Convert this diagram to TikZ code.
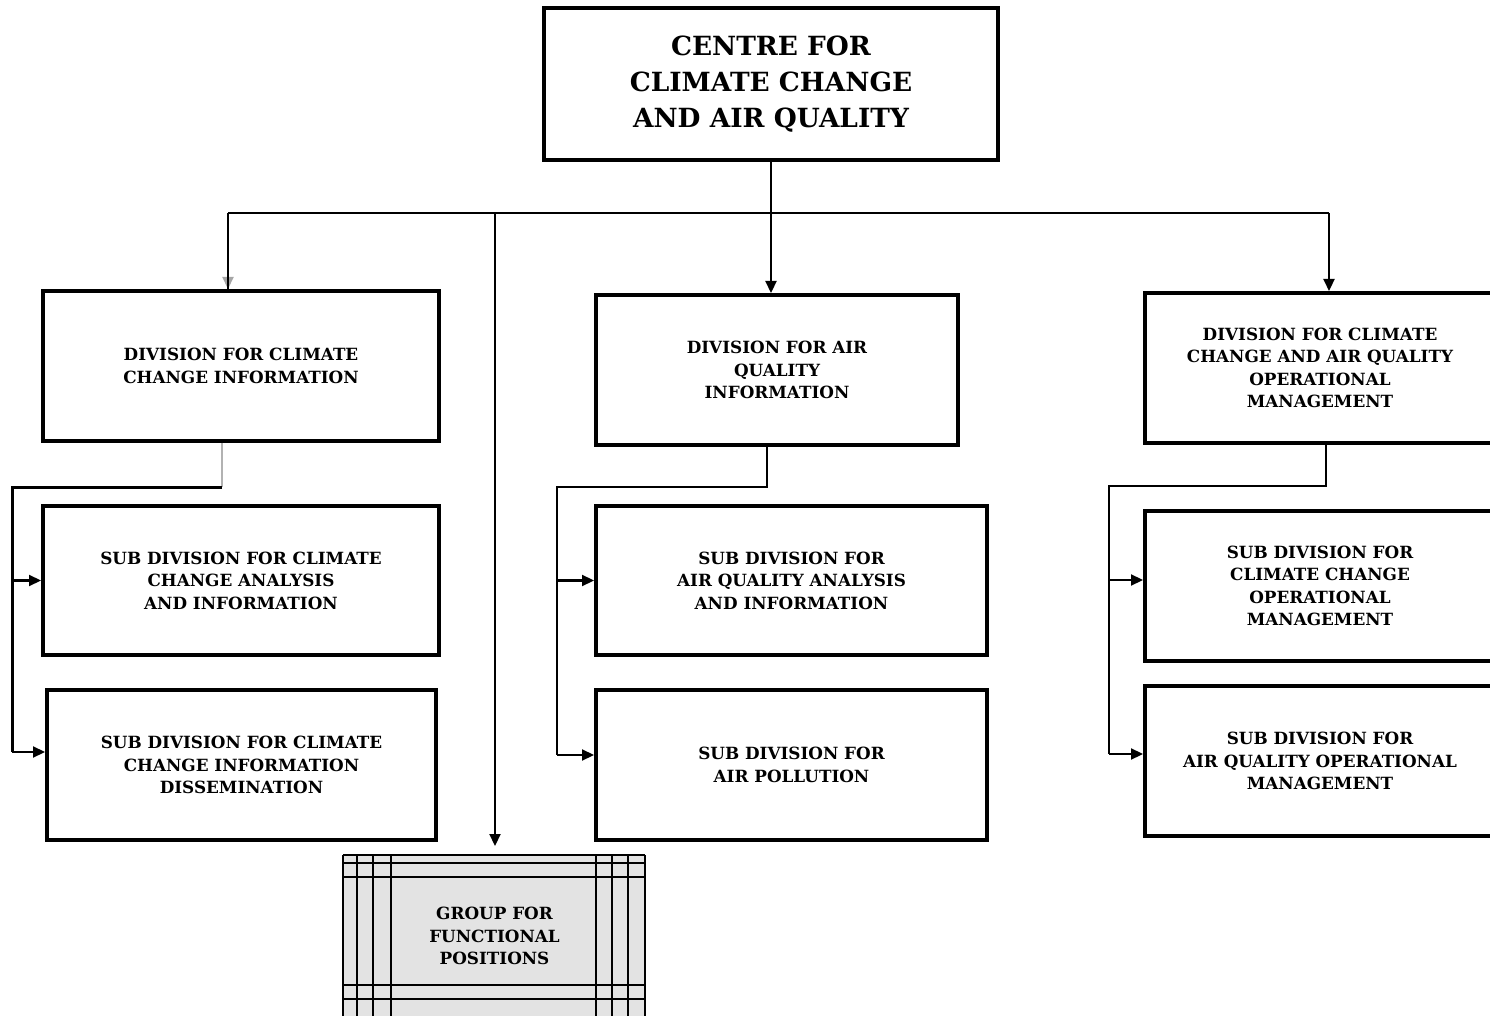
\documentclass[tikz,border=0pt]{standalone}
\usepackage{fontspec}
\setmainfont{DejaVu Serif}
\usepackage{tikz}
\usetikzlibrary{arrows.meta,positioning}
\tikzset{
  orgbox/.style={draw, line width=2pt, fill=white, align=center, inner sep=0pt,
                 font=\fontsize{8.4}{11.25}\selectfont\bfseries},
  topbox/.style={orgbox, font=\fontsize{13.2}{18}\selectfont\bfseries},
  link/.style={line width=1.1pt},
  arr/.style={link, -{Stealth[inset=0pt, length=6pt, width=5.5pt]}},
}

\begin{document}
\begin{tikzpicture}[x=0.5pt, y=-0.5pt]
			\useasboundingbox (0,0) rectangle (1490,1016);
			\clip (0,0) rectangle (1490,1016);
			% top level
			\node (centre) [topbox, minimum width=227pt, minimum height=76pt] at (771,84)
						{CENTRE FOR\\CLIMATE CHANGE\\AND AIR QUALITY};
			% divisions
			\node (divCC) [orgbox, minimum width=198pt, minimum height=75pt] at (241,366)
						{DIVISION FOR CLIMATE\\CHANGE INFORMATION};
			\node (divAQ) [orgbox, minimum width=181pt, minimum height=75pt] at (777,370)
						{DIVISION FOR AIR\\QUALITY\\INFORMATION};
			\node (divOM) [orgbox, minimum width=175pt, minimum height=75pt] at (1320,368)
						{DIVISION FOR CLIMATE\\CHANGE AND AIR QUALITY\\OPERATIONAL\\MANAGEMENT};
			% sub divisions
			\node (subCCA) [orgbox, minimum width=198pt, minimum height=74.5pt] at (241,580.5)
						{SUB DIVISION FOR CLIMATE\\CHANGE ANALYSIS\\AND INFORMATION};
			\node (subCCD) [orgbox, minimum width=194.5pt, minimum height=75pt] at (241.5,765)
						{SUB DIVISION FOR CLIMATE\\CHANGE INFORMATION\\DISSEMINATION};
			\node (subAQA) [orgbox, minimum width=195.5pt, minimum height=74.5pt] at (791.5,580.5)
						{SUB DIVISION FOR\\AIR QUALITY ANALYSIS\\AND INFORMATION};
			\node (subAP) [orgbox, minimum width=195.5pt, minimum height=75pt] at (791.5,765)
						{SUB DIVISION FOR\\AIR POLLUTION};
			\node (subCCO) [orgbox, minimum width=175pt, minimum height=75pt] at (1320,586)
						{SUB DIVISION FOR\\CLIMATE CHANGE\\OPERATIONAL\\MANAGEMENT};
			\node (subAQO) [orgbox, minimum width=175pt, minimum height=75pt] at (1320,761)
						{SUB DIVISION FOR\\AIR QUALITY OPERATIONAL\\MANAGEMENT};
			% functional group
			\node (group) [orgbox, draw=none, fill=gray!22, minimum width=151.5pt, minimum height=85pt] at (494.5,940)
						{};
			\foreach \x in {343,357,373,391,596,612,628,645}
				\draw[line width=0.8pt] (\x,855) -- (\x,1016);
			\foreach \y in {855,863,877,985,999}
				\draw[line width=0.8pt] (343,\y) -- (645,\y);
			\node (groupText) [align=center, font=\fontsize{8.4}{11.25}\selectfont\bfseries] at (494.5,936)
						{GROUP FOR\\FUNCTIONAL\\POSITIONS};
			%
			\coordinate (busL) at (228,213);
			\coordinate (busR) at (1329,213);
			\coordinate (busG) at (495,213);
			\draw[link]		(busL) -- (busR);
			\draw[arr]		(centre.south) -- (centre.south |- divAQ.north);
			\draw[arr, gray!70]	(busL) -- (busL |- divCC.north);
			\draw[link]		(busL) -- ([yshift=-2pt]busL |- divCC.north);
			\draw[arr]		(busR) -- (busR |- divOM.north);
			\draw[arr, shorten >=3.5pt]	(busG) -- (busG |- group.north);
			%
			\coordinate (ccTurn) at (222,487);
			\coordinate (ccTop) at (12,487);
			\coordinate (ccLow) at (12,752);
			\draw[link, gray!60]	(divCC.south -| ccTurn) -- (ccTurn);
			\draw[link, line width=1.5pt]	(ccTurn) -- (ccTop) -- (ccLow);
			\draw[arr]		(ccTop |- subCCA.west) -- (subCCA.west);
			\draw[arr]		(ccLow) -- (subCCD.west |- ccLow);
			%
			\coordinate (aqTurn) at (767,487);
			\coordinate (aqTop) at (557,487);
			\coordinate (aqLow) at (557,755);
			\draw[link]		(divAQ.south -| aqTurn) -- (aqTurn) -- (aqTop) -- (aqLow);
			\draw[arr]		(aqTop |- subAQA.west) -- (subAQA.west);
			\draw[arr]		(aqLow) -- (subAP.west |- aqLow);
			%
			\coordinate (omTurn) at (1326,486);
			\coordinate (omTop) at (1109,486);
			\coordinate (omLow) at (1109,754);
			\draw[link]		(divOM.south -| omTurn) -- (omTurn) -- (omTop) -- (omLow);
			\draw[arr]		(omTop |- 0,580) -- (subCCO.west |- 0,580);
			\draw[arr]		(omLow) -- (subAQO.west |- omLow);
\end{tikzpicture}
\end{document}
